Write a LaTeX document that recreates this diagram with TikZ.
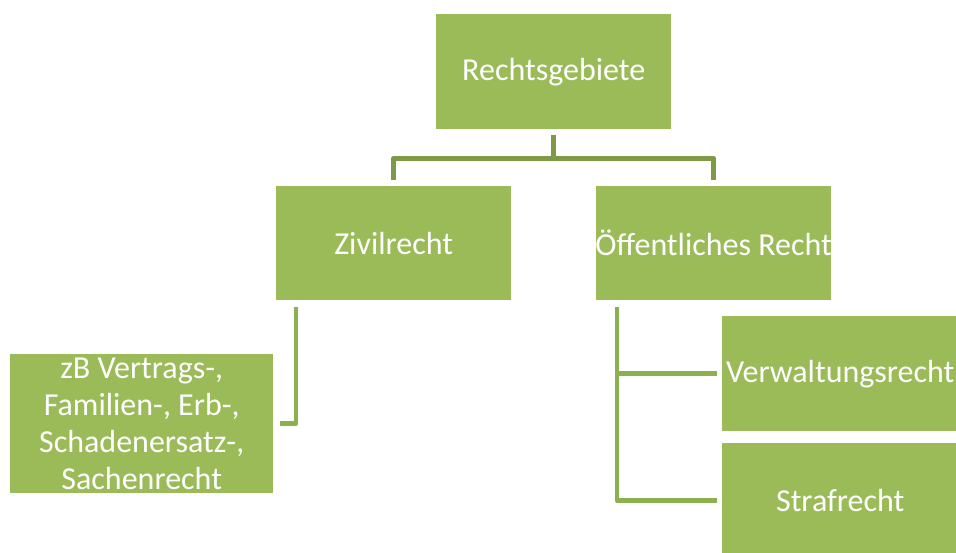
\documentclass[tikz,border=0pt]{standalone}
\usepackage{fontspec}
\setmainfont{Carlito}
\definecolor{boxgreen}{HTML}{9BBB59}
\definecolor{darkconn}{HTML}{7E9A47}
\definecolor{lightconn}{HTML}{8DB04E}
\tikzset{
  box/.style={fill=boxgreen, text=white, inner sep=0pt, anchor=north west,
    font=\fontsize{32}{37}\selectfont, align=center},
  topconn/.style={draw=darkconn, line width=5pt, line join=round},
  subconn/.style={draw=lightconn, line width=4.5pt, line join=round}
}
\begin{document}
\begin{tikzpicture}[x=1pt,y=-1pt]
\useasboundingbox (0,0) rectangle (956,552);
\node[box, minimum width=235pt, minimum height=115pt] (top) at (436,14) {Rechtsgebiete};
\node[box, minimum width=235pt, minimum height=114pt] (ziv) at (276,186) {Zivilrecht};
\node[box, minimum width=235pt, minimum height=114pt] (oef) at (596,186) {\makebox[0pt]{Öffentliches Recht}};
\node[box, minimum width=263pt, minimum height=139pt] (zb) at (10,354) {zB Vertrags-,\\Familien-, Erb-,\\Schadenersatz-,\\Sachenrecht};
\node[box, minimum width=236pt, minimum height=115pt] (verw) at (722,316) {\makebox[0pt]{Verwaltungsrecht}};
\node[box, minimum width=236pt, minimum height=115pt] (straf) at (722,443) {Strafrecht};
\draw[topconn] ([yshift=-6pt]top.south) -- ([yshift=-29pt]top.south) -| ([yshift=6pt]ziv.north);
\draw[topconn] ([yshift=-29pt]top.south) -| ([yshift=6pt]oef.north);
\draw[subconn] ([xshift=20pt,yshift=-7pt]ziv.south west) |- ([xshift=7pt]zb.east);
\draw[subconn] ([xshift=21pt,yshift=-7pt]oef.south west) |- ([xshift=-5pt]straf.west);
\draw[subconn] ([xshift=21pt]oef.west |- verw.west) -- ([xshift=-5pt]verw.west);
\end{tikzpicture}
\end{document}
